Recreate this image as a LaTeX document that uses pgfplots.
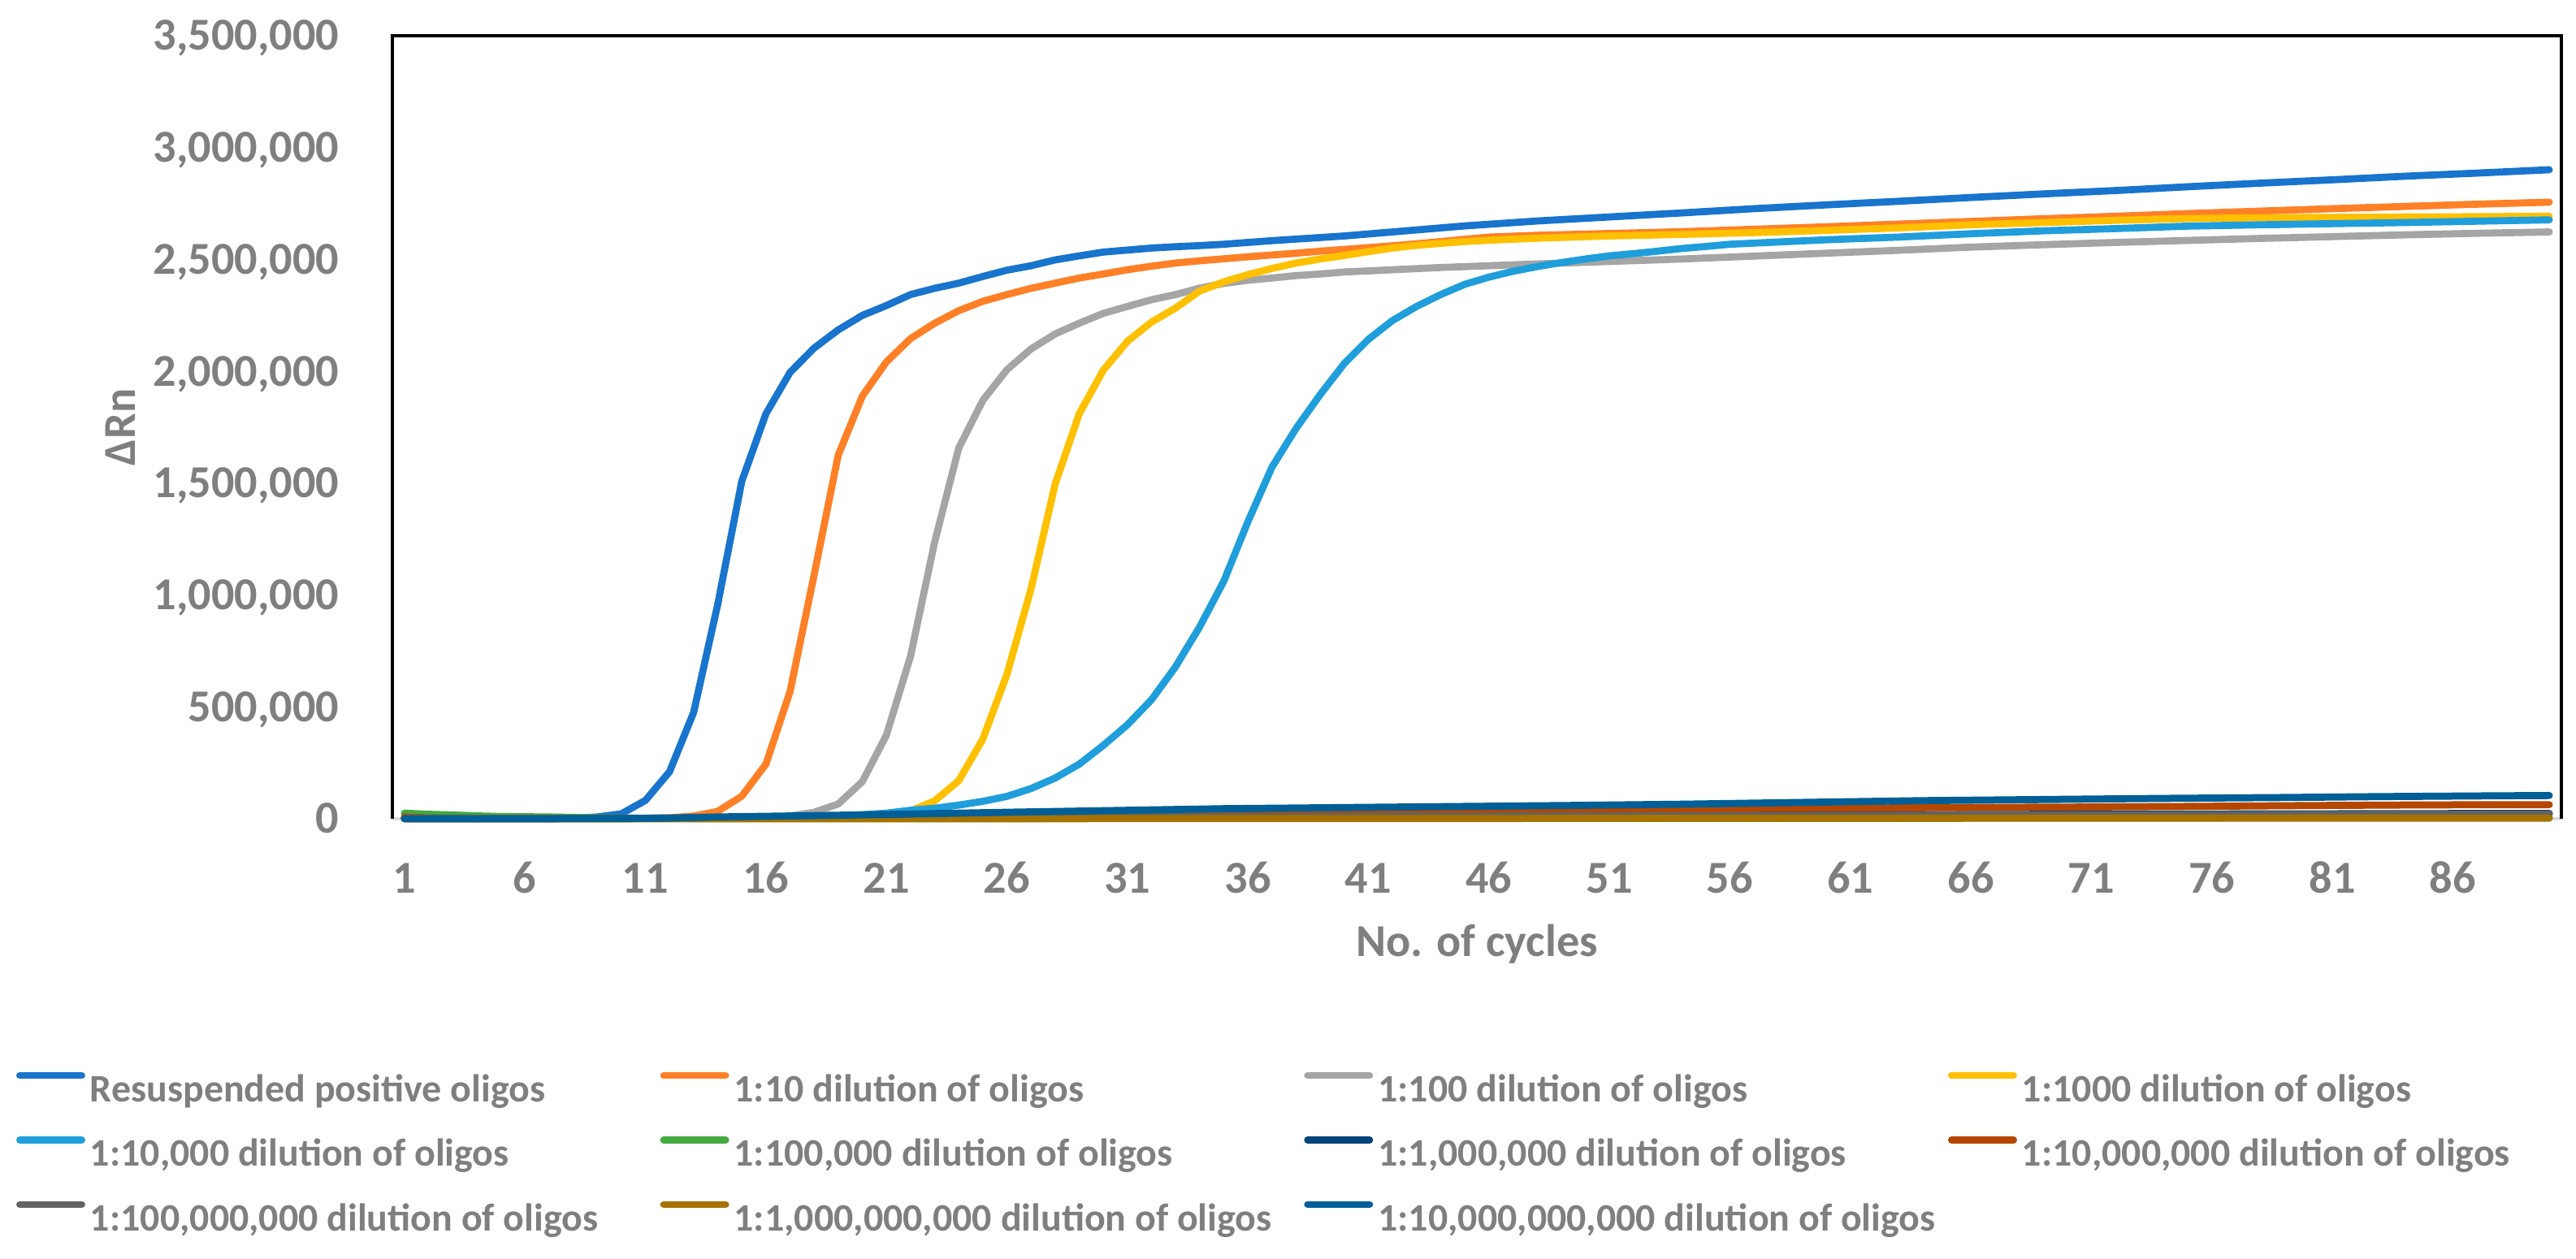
\documentclass[border=0pt]{standalone}
\usepackage{fontspec}
\setmainfont{Carlito}
\usepackage{pgfplots}
\pgfplotsset{compat=1.18}
\definecolor{labelgray}{RGB}{127,127,127}
\definecolor{axisgray}{RGB}{217,217,217}
\definecolor{cA}{RGB}{24,116,205}
\definecolor{cB}{RGB}{255,128,39}
\definecolor{cC}{RGB}{165,165,165}
\definecolor{cD}{RGB}{255,192,0}
\definecolor{cE}{RGB}{31,158,219}
\definecolor{cF}{RGB}{68,170,63}
\definecolor{cG}{RGB}{0,66,122}
\definecolor{cH}{RGB}{181,71,0}
\definecolor{cI}{RGB}{99,99,99}
\definecolor{cJ}{RGB}{166,115,0}
\definecolor{cK}{RGB}{0,95,150}
\newcommand{\leg}[1]{\makebox[168.4pt][l]{\strut #1}}
\begin{document}
\begin{tikzpicture}
\useasboundingbox (-115.92pt,-130.08pt) rectangle (645.12pt,241.92pt);
\begin{axis}[
  at={(0pt,0pt)}, anchor=south west,
  scale only axis, width=640.8pt, height=231.36pt,
  xmin=0.5, xmax=90.5, ymin=0, ymax=3500000,
  clip=false,
  axis line style={draw=none},
  major tick length=0pt,
  xtick={1,6,...,86},
  ytick={0,500000,...,3500000},
  scaled y ticks=false,
  /pgf/number format/assume math mode=true,
  yticklabel style={/pgf/number format/fixed, /pgf/number format/1000 sep={,}, anchor=base east, inner sep=0pt, xshift=-15.6pt, yshift=-4.3pt},
  xticklabel style={anchor=base, inner sep=0pt, yshift=-21.9pt},
  tick label style={font=\fontsize{13.5}{16}\selectfont\bfseries, text=labelgray},
  xlabel={No. of cycles},
  xlabel style={at={(axis description cs:0.5,-0.1763)}, anchor=base, font=\fontsize{13.5}{16}\selectfont\bfseries, text=labelgray},
  ylabel={ΔRn},
  ylabel style={at={(axis description cs:-0.12547,0.5)}, anchor=center, font=\fontsize{13.5}{16}\selectfont\bfseries, text=labelgray},
  every axis plot/.append style={line width=2.1pt, line join=round, line cap=round},
  no markers,
  legend columns=4,
  legend cell align=left,
  legend image code/.code={\draw[#1, line width=2.1pt, line cap=round] (0pt,3.7pt) -- (18.3pt,3.7pt);},
  legend style={at={(axis description cs:-0.17341,-0.31976)}, anchor=north west, draw=none, fill=none, inner sep=0pt, outer sep=0pt, row sep=7.9pt, column sep=0pt, font=\fontsize{11.5}{13.8}\selectfont\bfseries, text=labelgray, nodes={inner sep=0pt, outer sep=0pt}, /tikz/every odd column/.append style={column sep=1.44pt}},
]
\draw[axisgray, line width=1pt] (rel axis cs:0,0) -- (rel axis cs:1,0);
\addplot[cA] coordinates {(1,2000)(2,1500)(3,1000)(4,800)(5,600)(6,500)(7,800)(8,2500)(9,8000)(10,22000)(11,82000)(12,210000)(13,475000)(14,958000)(15,1509000)(16,1810000)(17,1995000)(18,2104000)(19,2185000)(20,2250000)(21,2294000)(22,2343000)(23,2371000)(24,2394000)(25,2424000)(26,2452000)(27,2472000)(28,2498000)(29,2516000)(30,2533000)(31,2542000)(32,2551000)(33,2557000)(34,2562000)(35,2568000)(36,2576000)(37,2584000)(38,2591000)(39,2598000)(40,2605000)(41,2614000)(42,2623000)(43,2632000)(44,2641000)(45,2650000)(48,2672000)(51,2690000)(54,2708000)(57,2727000)(60,2744000)(63,2760000)(66,2777000)(69,2793000)(72,2808000)(75,2825000)(78,2841000)(81,2856000)(84,2872000)(87,2886000)(90,2901000)};
\addlegendentry{\leg{Resuspended positive oligos}}
\addplot[cB] coordinates {(1,1000)(2,800)(3,600)(4,500)(5,500)(6,500)(7,500)(8,600)(9,800)(10,1000)(11,2000)(12,4000)(13,12000)(14,33000)(15,101000)(16,244000)(17,568000)(18,1090000)(19,1625000)(20,1889000)(21,2042000)(22,2146000)(23,2215000)(24,2271000)(25,2313000)(26,2343000)(27,2371000)(28,2394000)(29,2417000)(30,2435000)(31,2454000)(32,2470000)(33,2484000)(34,2494000)(35,2503000)(36,2512000)(37,2520000)(38,2528000)(39,2537000)(40,2545000)(41,2553000)(42,2561000)(43,2570000)(44,2580000)(45,2590000)(46,2600000)(48,2608000)(51,2616000)(54,2624000)(57,2635000)(60,2646000)(63,2658000)(66,2670000)(69,2682000)(72,2693000)(75,2705000)(78,2716000)(81,2727000)(84,2737000)(87,2747000)(90,2756000)};
\addlegendentry{\leg{1:10 dilution of oligos}}
\addplot[cC] coordinates {(1,1000)(5,1000)(10,1500)(14,2000)(15,3000)(16,5000)(17,12000)(18,29000)(19,66000)(20,166000)(21,374000)(22,726000)(23,1236000)(24,1657000)(25,1870000)(26,2007000)(27,2100000)(28,2167000)(29,2215000)(30,2259000)(31,2290000)(32,2320000)(33,2343000)(34,2372000)(35,2393000)(36,2407000)(37,2417000)(38,2428000)(39,2435000)(40,2444000)(41,2449000)(42,2454000)(43,2459000)(44,2464000)(45,2468000)(46,2472000)(48,2480000)(51,2491000)(54,2502000)(57,2515000)(60,2528000)(63,2541000)(66,2555000)(69,2566000)(72,2576000)(75,2585000)(78,2594000)(81,2602000)(84,2610000)(87,2617000)(90,2623000)};
\addlegendentry{\leg{1:100 dilution of oligos}}
\addplot[cD] coordinates {(1,1000)(5,1000)(10,1000)(15,2000)(18,3000)(19,3000)(20,6000)(21,16000)(22,35000)(23,80000)(24,170000)(25,356000)(26,645000)(27,1027000)(28,1495000)(29,1810000)(30,2005000)(31,2134000)(32,2220000)(33,2283000)(34,2359000)(35,2400000)(36,2432000)(37,2460000)(38,2484000)(39,2502000)(40,2518000)(41,2535000)(42,2551000)(43,2563000)(44,2572000)(45,2580000)(46,2586000)(48,2595000)(51,2605000)(54,2612000)(57,2620000)(60,2630000)(63,2641000)(66,2655000)(69,2665000)(72,2675000)(75,2683000)(78,2686000)(81,2688000)(84,2690000)(87,2691000)(90,2693000)};
\addlegendentry{\leg{1:1000 dilution of oligos}}
\addplot[cE] coordinates {(1,2000)(5,1500)(10,1500)(12,2000)(14,2500)(15,3000)(16,4000)(17,6000)(18,9000)(19,13000)(20,18000)(21,25000)(22,38000)(23,47000)(24,61000)(25,78000)(26,100000)(27,135000)(28,182000)(29,244000)(30,328000)(31,420000)(32,532000)(33,680000)(34,858000)(35,1062000)(36,1328000)(37,1572000)(38,1745000)(39,1896000)(40,2035000)(41,2143000)(42,2227000)(43,2290000)(44,2343000)(45,2389000)(46,2421000)(47,2447000)(48,2468000)(49,2486000)(50,2502000)(51,2516000)(52,2526000)(53,2537000)(54,2549000)(55,2558000)(56,2568000)(58,2578000)(60,2588000)(63,2600000)(66,2615000)(69,2628000)(72,2638000)(75,2649000)(78,2655000)(81,2660000)(84,2665000)(87,2671000)(90,2677000)};
\addlegendentry{\leg{1:10,000 dilution of oligos}}
\addplot[cF] coordinates {(1,25000)(2,20000)(3,17000)(4,13000)(5,10000)(6,9000)(7,8000)(8,6000)(9,4000)(10,3000)(11,2000)(12,1500)(15,1000)(20,1000)(30,1500)(45,2500)(60,3500)(75,4000)(90,5000)};
\addlegendentry{\leg{1:100,000 dilution of oligos}}
\addplot[cG] coordinates {(1,3000)(5,2000)(10,2000)(15,3000)(20,5000)(30,8000)(40,11000)(50,14000)(60,17000)(70,20000)(80,22000)(90,24000)};
\addlegendentry{\leg{1:1,000,000 dilution of oligos}}
\addplot[cH] coordinates {(1,8000)(2,3000)(3,1000)(5,500)(10,1000)(15,4000)(20,8000)(25,13000)(30,18000)(35,25000)(40,33000)(46,40000)(50,42000)(55,45000)(60,47000)(65,50000)(70,52000)(75,55000)(80,59000)(85,62000)(90,63000)};
\addlegendentry{\leg{1:10,000,000 dilution of oligos}}
\addplot[cI] coordinates {(1,2000)(10,2000)(20,5000)(30,8000)(40,11000)(50,13000)(60,15000)(70,17000)(80,19000)(90,21000)};
\addlegendentry{\leg{1:100,000,000 dilution of oligos}}
\addplot[cJ] coordinates {(1,0)(10,0)(20,0)(30,500)(40,1000)(50,1500)(60,2000)(70,2500)(80,3000)(90,3000)};
\addlegendentry{\leg{1:1,000,000,000 dilution of oligos}}
\addplot[cK] coordinates {(1,0)(5,0)(10,1000)(12,3000)(14,8000)(18,14000)(22,21000)(26,29000)(30,36000)(35,45000)(40,50000)(44,54000)(49,59000)(54,65000)(59,73000)(64,81000)(69,86000)(74,91000)(79,95000)(83,99000)(87,102000)(90,104000)};
\addlegendentry{\leg{1:10,000,000,000 dilution of oligos}}
\draw[black, line width=0.85pt] (rel axis cs:0,0) -- (rel axis cs:0,1) -- (rel axis cs:1,1) -- (rel axis cs:1,0);
\end{axis}
\end{tikzpicture}
\end{document}
